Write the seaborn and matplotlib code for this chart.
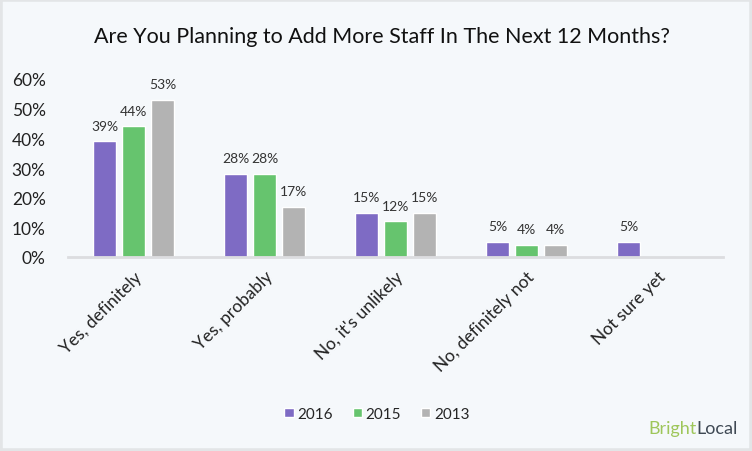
import pandas as pd
import matplotlib.pyplot as plt
import seaborn as sns
from matplotlib.patches import Rectangle

# --- data ---
categories = ["Yes, definitely", "Yes, probably", "No, it's unlikely",
              "No, definitely not", "Not sure yet"]
years = ["2016", "2015", "2013"]
vals_2016 = [39, 28, 15, 5, 5]
vals_2015 = [44, 28, 12, 4, 0]
vals_2013 = [53, 17, 15, 4, 0]
y_ticks = [0, 10, 20, 30, 40, 50, 60]

colors = ["#7e6bc4", "#66c46e", "#b3b3b3"]
bg = "#f5f8fb"

df = pd.DataFrame({
    "category": categories * 3,
    "year": [y for y in years for _ in categories],
    "value": vals_2016 + vals_2015 + vals_2013,
})

sns.set_style("white")
plt.rcParams["font.family"] = ["Lato", "DejaVu Sans"]

fig = plt.figure(figsize=(7.52, 4.52), dpi=100, facecolor=bg)
fig.patches.append(Rectangle((0, 0), 1, 1, transform=fig.transFigure,
                             fill=False, edgecolor="#e3e5e7", linewidth=4))

ax = fig.add_axes([68 / 752, 1 - 258 / 452, 655 / 752, 178 / 452])
ax.set_facecolor(bg)

sns.barplot(data=df, x="category", y="value", hue="year", hue_order=years,
            palette=colors, width=0.664, gap=0.2, ax=ax, legend=True,
            saturation=1)

# value labels (skip empty bars)
for cont in ax.containers:
    labels = [f"{int(b.get_height())}%" if b.get_height() > 0 else ""
              for b in cont]
    ax.bar_label(cont, labels=labels, padding=7, fontsize=10, color="#333333")

ax.set_ylim(0, 60)
ax.set_xlim(-0.5, 4.5)
ax.set_yticks(y_ticks)
ax.set_yticklabels([f"{t}%" for t in y_ticks], fontsize=12.5, color="#222222")
ax.set_xticks(range(len(categories)))
ax.set_xticklabels(categories, rotation=45, ha="right", rotation_mode="anchor",
                   fontsize=12.5, color="#222222")
ax.tick_params(axis="y", length=0, pad=16)
ax.tick_params(axis="x", length=0, pad=8)
ax.set_xlabel("")
ax.set_ylabel("")
for s in ["top", "right", "left"]:
    ax.spines[s].set_visible(False)
ax.spines["bottom"].set_color("#dcdde0")
ax.spines["bottom"].set_linewidth(2)

fig.text(382 / 752, 1 - 37 / 452, "Are You Planning to Add More Staff In The Next 12 Months?",
         ha="center", va="center", fontsize=15.5, color="#111111")

ax.legend(loc="center", bbox_to_anchor=(377 / 752, 1 - 415 / 452),
          bbox_transform=fig.transFigure, ncol=3, frameon=False,
          fontsize=11, handlelength=0.6, handleheight=0.6,
          handletextpad=0.25, columnspacing=1.3)

# logo text: "Local" right-aligned to the edge, "Bright" just before it
t2 = fig.text(738 / 752, 1 - 434 / 452, "Local", ha="right", va="baseline",
              fontsize=13, color="#3f4954")
fig.canvas.draw()
bb = t2.get_window_extent()
fig.text(bb.x0 / fig.bbox.width, 1 - 434 / 452, "Bright", ha="right", va="baseline",
         fontsize=13, color="#9ec65a")

fig.savefig("out.png", dpi=100, facecolor=bg)
